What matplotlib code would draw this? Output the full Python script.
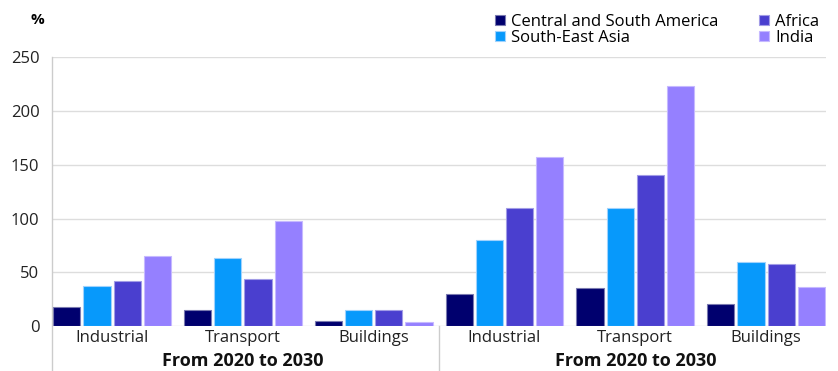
import numpy as np
import matplotlib.pyplot as plt

plt.rcParams['font.family'] = ['Open Sans', 'DejaVu Sans']

sectors = ["Industrial", "Transport", "Buildings", "Industrial", "Transport", "Buildings"]
periods = ["From 2020 to 2030", "From 2020 to 2030"]
regions = ["Central and South America", "South-East Asia", "Africa", "India"]
colors = ["#00006e", "#0799fb", "#4a3fcf", "#9580ff"]
edges = ["#7a7ab0", "#9fd2fd", "#a29ce6", "#c6b9ff"]

csa = [18, 15, 5, 30, 35, 21]
sea = [37, 63, 15, 80, 110, 60]
africa = [42, 44, 15, 110, 140, 58]
india = [65, 98, 4, 157, 223, 36]
values = [csa, sea, africa, india]

fig = plt.figure(figsize=(8.38, 3.71), dpi=100)
ax = fig.add_axes([0.062, 0.121, 0.924, 0.725])

x = np.arange(len(sectors))
pitch = 0.231
width = 0.207
for i, (name, vals) in enumerate(zip(regions, values)):
    ax.bar(x + (i - 1.5) * pitch, vals, width, color=colors[i], edgecolor=edges[i],
           linewidth=0.8, label=name, zorder=3)

ax.set_xlim(-0.46, 5.46)
ax.set_ylim(0, 250)
ax.set_yticks(range(0, 251, 50))
ax.yaxis.grid(True, color="#dddddd", linewidth=1)
ax.set_axisbelow(True)
for s in ax.spines.values():
    s.set_visible(False)
ax.tick_params(length=0, labelsize=12, colors="#222222")
ax.tick_params(axis='y', pad=9)
ax.tick_params(axis='x', pad=3)
ax.set_xticks(x)
ax.set_xticklabels(sectors)

# left line and separator
ax.plot([0, 0], [1, -0.17], transform=ax.transAxes, color="#cccccc", lw=1, clip_on=False)
ax.plot([2.5, 2.5], [0, -0.17], transform=ax.get_xaxis_transform(), color="#cccccc",
        lw=1, clip_on=False)

for j, p in enumerate(periods):
    ax.text(1 + 3 * j, -0.128, p, transform=ax.get_xaxis_transform(), ha="center",
            va="center", fontsize=13, fontweight="bold", color="#111111")

fig.text(0.045, 0.945, "%", ha="center", va="center", fontsize=11, fontweight="bold")

ax.legend(loc="upper right", bbox_to_anchor=(1.0, 1.185), ncol=2, frameon=False,
          fontsize=12, handlelength=0.6, handleheight=0.6, handletextpad=0.4,
          columnspacing=2.4, labelspacing=0.0, borderaxespad=0)

fig.savefig("out.png", dpi=100)
